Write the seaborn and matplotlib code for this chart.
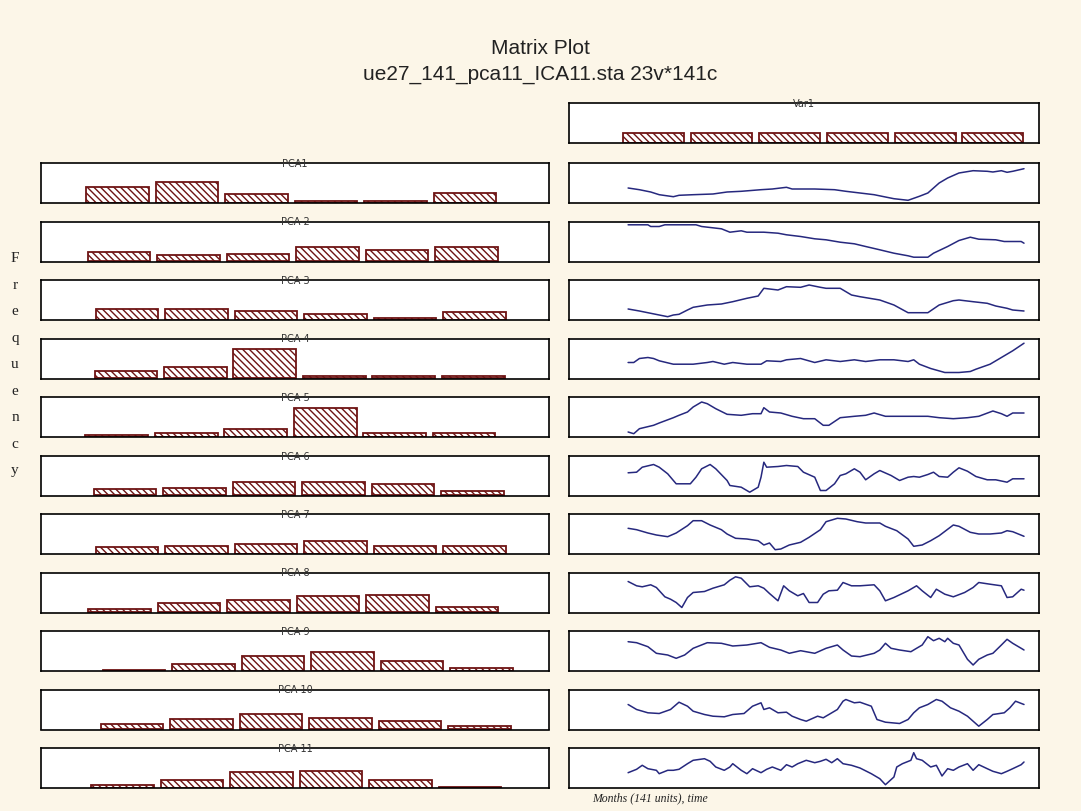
import numpy as np
import pandas as pd
import matplotlib
matplotlib.use("Agg")
import matplotlib.pyplot as plt
import seaborn as sns

# ---------------- text ----------------
title = "Matrix Plot"
subtitle = "ue27_141_pca11_ICA11.sta 23v*141c"
ylabel = "Frequency"
xlabel = "Months (141 units), time"
var_name = "Var1"
pca_names = ["PCA1", "PCA 2", "PCA 3", "PCA 4", "PCA 5", "PCA 6",
             "PCA 7", "PCA 8", "PCA 9", "PCA 10", "PCA 11"]

# ---------------- histogram data (frequencies, 6 bins) ----------------
var1_counts = [24, 23, 24, 23, 23, 24]
var1_bin_start = 0.75

pca1_counts = [38, 50, 22, 5, 5, 24]
pca2_counts = [22, 14, 17, 34, 26, 34]
pca3_counts = [26, 26, 22, 14, 5, 19]
pca4_counts = [17, 26, 70, 5, 5, 5]
pca5_counts = [5, 10, 19, 70, 10, 10]
pca6_counts = [14, 17, 31, 31, 26, 10]
pca7_counts = [17, 19, 24, 31, 19, 19]
pca8_counts = [7, 22, 29, 38, 41, 12]
pca9_counts = [2, 17, 36, 46, 24, 7]
pca10_counts = [12, 24, 36, 26, 19, 7]
pca11_counts = [7, 19, 38, 41, 19, 2]
pca_bin_start = [0.60, 0.62, 0.74, 0.72, 0.59, 0.71, 0.74, 0.63, 0.84, 0.81, 0.67]

# ---------------- time series (month, score) ----------------
pca1_months = [1, 5, 9, 12, 17, 19, 24, 31, 36, 41, 48, 52, 57, 59, 67, 74, 78, 83, 88, 92,
               95, 100, 104, 107, 109, 111, 114, 118, 123, 128, 130, 133, 135, 137, 141]
pca1_values = [1.50, 1.33, 1.10, 0.83, 0.63, 0.77, 0.83, 0.90, 1.10, 1.17, 1.33, 1.40, 1.57, 1.40,
               1.40, 1.33, 1.17, 1.00, 0.83, 0.60, 0.43, 0.27, 0.67, 1.00, 1.50, 2.00, 2.50, 3.00,
               3.23, 3.17, 3.10, 3.23, 3.07, 3.17, 3.43]

pca2_months = [1, 8, 9, 12, 14, 16, 25, 27, 34, 37, 41, 43, 49, 54, 57, 62, 67, 71, 76, 81,
               85, 90, 95, 100, 102, 107, 109, 114, 118, 122, 125, 131, 134, 140, 141]
pca2_values = [3.67, 3.67, 3.50, 3.50, 3.67, 3.67, 3.67, 3.50, 3.27, 2.93, 3.07, 2.93, 2.93, 2.83,
               2.67, 2.50, 2.27, 2.17, 1.93, 1.77, 1.50, 1.17, 0.83, 0.57, 0.43, 0.43, 0.83, 1.50,
               2.10, 2.43, 2.23, 2.17, 2.00, 2.00, 1.83]

pca3_months = [1, 5, 9, 12, 15, 17, 19, 22, 24, 29, 34, 38, 43, 47, 49, 54, 57, 62, 65, 69,
               71, 76, 80, 83, 90, 95, 100, 107, 111, 116, 118, 123, 128, 131, 135, 137, 141]
pca3_values = [1.10, 0.90, 0.67, 0.50, 0.33, 0.50, 0.57, 1.00, 1.27, 1.50, 1.60, 1.83, 2.17, 2.40,
               3.17, 3.00, 3.33, 3.27, 3.50, 3.27, 3.17, 3.17, 2.50, 2.33, 2.00, 1.50, 0.73, 0.73,
               1.50, 1.93, 2.00, 1.83, 1.67, 1.40, 1.17, 1.00, 0.90]

pca4_months = [1, 3, 5, 8, 10, 12, 17, 24, 29, 31, 35, 38, 43, 48, 50, 55, 57, 62, 67, 71,
               76, 81, 85, 90, 95, 100, 102, 104, 108, 113, 118, 122, 124, 129, 133, 137, 141]
pca4_values = [1.60, 1.60, 2.00, 2.10, 2.00, 1.77, 1.43, 1.43, 1.60, 1.70, 1.43, 1.60, 1.43, 1.43,
               1.77, 1.70, 1.87, 2.00, 1.60, 1.87, 1.70, 1.87, 1.70, 1.87, 1.87, 1.70, 1.87, 1.43,
               1.00, 0.60, 0.60, 0.70, 0.93, 1.43, 2.10, 2.77, 3.53]

pca5_months = [1, 3, 5, 10, 12, 17, 19, 22, 24, 27, 29, 32, 36, 41, 45, 48, 49, 51, 55, 59,
               63, 67, 70, 72, 76, 81, 85, 88, 92, 100, 107, 111, 116, 121, 125, 130, 133, 135, 137, 141]
pca5_values = [0.50, 0.33, 0.83, 1.17, 1.40, 1.93, 2.17, 2.50, 3.00, 3.50, 3.33, 2.83, 2.27, 2.17,
               2.33, 2.33, 2.93, 2.50, 2.40, 2.07, 1.83, 1.83, 1.17, 1.17, 1.93, 2.07, 2.17, 2.40,
               2.07, 2.07, 2.07, 1.93, 1.83, 1.93, 2.07, 2.60, 2.33, 2.07, 2.40, 2.40]

pca6_months = [1, 4, 6, 10, 12, 15, 18, 23, 25, 27, 30, 32, 36, 37, 41, 44, 47, 48, 49, 50,
               54, 57, 61, 63, 67, 69, 71, 74, 76, 78, 81, 83, 85, 88, 90, 94, 97, 100, 102, 104,
               107, 109, 111, 114, 116, 118, 121, 124, 128, 131, 135, 137, 141]
pca6_values = [2.27, 2.33, 2.83, 3.10, 2.83, 2.17, 1.17, 1.17, 1.83, 2.67, 3.10, 2.67, 1.50, 1.00,
               0.83, 0.33, 0.83, 1.83, 3.33, 2.83, 2.90, 3.00, 2.90, 2.33, 1.83, 0.50, 0.50, 1.17,
               2.00, 2.17, 2.67, 2.33, 1.57, 2.17, 2.50, 2.00, 1.50, 1.83, 1.90, 1.83, 2.10, 2.33,
               1.90, 1.83, 2.33, 2.77, 2.43, 1.90, 1.57, 1.57, 1.33, 1.67, 1.67]

pca7_months = [1, 4, 8, 11, 15, 18, 22, 24, 27, 30, 34, 36, 39, 43, 47, 49, 51, 53, 55, 58,
               62, 65, 69, 71, 75, 78, 82, 85, 90, 92, 96, 100, 102, 105, 108, 111, 116, 118, 122, 125,
               129, 133, 135, 137, 141]
pca7_values = [2.57, 2.43, 2.10, 1.90, 1.73, 2.10, 2.83, 3.33, 3.33, 2.90, 2.43, 2.00, 1.57, 1.50,
               1.33, 0.90, 1.10, 0.43, 0.50, 0.90, 1.17, 1.67, 2.43, 3.23, 3.57, 3.50, 3.23, 3.10,
               3.10, 2.77, 2.33, 1.50, 0.77, 0.90, 1.33, 1.83, 2.90, 2.77, 2.17, 2.00, 2.00, 2.10,
               2.33, 2.23, 1.77]

pca8_months = [1, 4, 6, 9, 11, 14, 16, 18, 20, 22, 24, 28, 31, 35, 37, 39, 41, 44, 47, 49,
               51, 54, 56, 58, 61, 63, 65, 68, 70, 72, 75, 77, 80, 83, 88, 90, 92, 95, 100, 103,
               105, 108, 110, 113, 116, 120, 123, 125, 129, 133, 135, 137, 140, 141]
pca8_values = [3.10, 2.67, 2.57, 2.77, 2.50, 1.57, 1.33, 1.00, 0.50, 1.50, 2.00, 2.10, 2.43, 2.77,
               3.23, 3.57, 3.43, 2.57, 2.67, 2.43, 1.90, 1.17, 2.67, 2.17, 1.67, 1.90, 1.00, 1.00,
               1.83, 2.17, 2.23, 3.00, 2.67, 2.67, 2.77, 2.17, 1.17, 1.50, 2.17, 2.67, 2.17, 1.50,
               2.33, 1.83, 1.57, 2.00, 2.50, 3.00, 2.83, 2.67, 1.50, 1.57, 2.33, 2.23]

pca9_months = [1, 4, 8, 11, 15, 18, 21, 24, 29, 34, 38, 43, 48, 51, 55, 58, 62, 67, 71, 75,
               77, 80, 83, 88, 90, 92, 94, 97, 101, 103, 105, 107, 109, 111, 113, 114, 116, 118, 121, 123,
               125, 128, 130, 133, 135, 137, 140, 141]
pca9_values = [2.93, 2.83, 2.43, 1.77, 1.60, 1.27, 1.60, 2.27, 2.83, 2.77, 2.50, 2.60, 2.83, 2.37,
               2.10, 1.77, 2.03, 1.77, 2.27, 2.60, 2.10, 1.50, 1.43, 1.77, 2.10, 2.77, 2.27, 2.10,
               1.93, 2.27, 2.60, 3.43, 3.03, 3.27, 2.93, 3.27, 2.77, 2.60, 1.17, 0.60, 1.17, 1.60,
               1.77, 2.60, 3.17, 2.77, 2.27, 2.10]

pca10_months = [1, 4, 8, 12, 16, 19, 22, 24, 28, 31, 35, 38, 42, 45, 48, 49, 51, 54, 57, 59,
                62, 64, 68, 70, 72, 75, 77, 78, 81, 83, 87, 89, 92, 97, 100, 102, 104, 107, 110, 112,
                115, 118, 121, 125, 128, 130, 134, 136, 138, 141]
pca10_values = [2.50, 2.00, 1.67, 1.60, 2.00, 2.73, 2.33, 1.83, 1.50, 1.33, 1.27, 1.50, 1.60, 2.33,
                2.67, 2.00, 2.17, 1.67, 1.73, 1.33, 1.00, 0.83, 1.33, 1.17, 1.50, 2.00, 2.83, 3.00,
                2.67, 2.73, 2.33, 1.00, 0.73, 0.60, 1.00, 1.67, 2.17, 2.50, 3.00, 2.83, 2.17, 1.83,
                1.33, 0.33, 1.00, 1.50, 1.67, 2.17, 2.83, 2.50]

pca11_months = [1, 4, 6, 8, 11, 12, 15, 17, 19, 22, 24, 28, 30, 32, 35, 37, 38, 41, 43, 45,
                48, 50, 52, 55, 57, 59, 61, 64, 67, 69, 71, 73, 75, 77, 80, 83, 87, 90, 92, 95,
                96, 98, 101, 102, 103, 105, 108, 110, 112, 114, 116, 118, 121, 123, 125, 128, 130, 133, 135, 137,
                140, 141]
pca11_values = [1.53, 1.87, 2.27, 1.93, 1.77, 1.43, 1.77, 1.77, 1.87, 2.43, 2.77, 2.93, 2.67, 2.10,
                1.77, 2.10, 2.43, 1.77, 1.43, 1.93, 1.53, 1.87, 2.10, 1.77, 2.33, 2.10, 2.43, 2.77,
                2.53, 2.67, 2.87, 2.53, 2.93, 2.43, 2.27, 2.00, 1.43, 0.93, 0.33, 1.10, 2.10, 2.43,
                2.77, 3.53, 2.93, 2.77, 2.10, 2.27, 1.20, 1.93, 1.77, 2.10, 2.43, 1.77, 2.33, 1.93,
                1.67, 1.43, 1.67, 1.93, 2.33, 2.60]

pca_counts = [pca1_counts, pca2_counts, pca3_counts, pca4_counts, pca5_counts, pca6_counts,
              pca7_counts, pca8_counts, pca9_counts, pca10_counts, pca11_counts]
pca_months = [pca1_months, pca2_months, pca3_months, pca4_months, pca5_months, pca6_months,
              pca7_months, pca8_months, pca9_months, pca10_months, pca11_months]
pca_values = [pca1_values, pca2_values, pca3_values, pca4_values, pca5_values, pca6_values,
              pca7_values, pca8_values, pca9_values, pca10_values, pca11_values]

# ---------------- style ----------------
BG = "#fcf6e8"
MAROON = "#6e1414"
NAVY = "#26287e"
W, H = 1081, 812

sns.set_style("white")
plt.rcParams["font.family"] = ["Liberation Sans", "DejaVu Sans"]
plt.rcParams["hatch.linewidth"] = 1.0
plt.rcParams["hatch.color"] = MAROON

fig = plt.figure(figsize=(W / 100, H / 100), dpi=100, facecolor=BG)


def add_px_axes(x0, y_top, w, h):
    return fig.add_axes([x0 / W, 1 - (y_top + h) / H, w / W, h / H])


def style_panel(ax):
    ax.set_facecolor("white")
    ax.set_xticks([])
    ax.set_yticks([])
    ax.set_xlabel("")
    ax.set_ylabel("")
    for sp in ax.spines.values():
        sp.set_visible(True)
        sp.set_color("black")
        sp.set_linewidth(1.2)


def draw_hist(ax, counts, start, xmax, label):
    centers = start + np.arange(len(counts)) + 0.5
    df = pd.DataFrame({"bin": centers, "count": counts})
    sns.barplot(data=df, x="bin", y="count", native_scale=True, width=0.9,
                color="white", saturation=1, edgecolor=MAROON, linewidth=1.3,
                hatch="\\\\\\\\\\", errorbar=None, ax=ax)
    ax.set_xlim(0, xmax)
    ax.set_ylim(-0.8, 96)
    style_panel(ax)
    ax.text(0.5, 1.0, label, transform=ax.transAxes, ha="center", va="center",
            fontsize=7, color="#333333", family="DejaVu Sans")


LEFT_X, LEFT_W = 41, 508
RIGHT_X, RIGHT_W = 569, 470
PANEL_H = 40
tops = [164 + i * 58.5 for i in range(11)]

# Var1 histogram (top right)
ax_v = add_px_axes(RIGHT_X, 104, RIGHT_W, PANEL_H)
draw_hist(ax_v, var1_counts, var1_bin_start, 6.93, var_name)

for i in range(11):
    axh = add_px_axes(LEFT_X, tops[i], LEFT_W, PANEL_H)
    draw_hist(axh, pca_counts[i], pca_bin_start[i], 7.31, pca_names[i])

    axl = add_px_axes(RIGHT_X, tops[i], RIGHT_W, PANEL_H)
    sns.lineplot(x=pca_months[i], y=pca_values[i], ax=axl, color=NAVY,
                 linewidth=1.1, estimator=None)
    axl.set_xlim(-19.9, 146.3)
    axl.set_ylim(0, 4.0)
    style_panel(axl)

# titles
fig.text(0.5, 1 - 48 / H, title, ha="center", va="center", fontsize=15, color="#222222")
fig.text(0.5, 1 - 75 / H, subtitle, ha="center", va="center", fontsize=15, color="#222222")

# vertical stacked "Frequency"
for k, ch in enumerate(ylabel):
    fig.text(15 / W, 1 - (259 + k * 26.5) / H, ch, ha="center", va="center",
             fontsize=11, family="Liberation Serif", color="#222222")

fig.text(592 / W, 1 - 798 / H, xlabel, ha="left", va="center", fontsize=8.5,
         family="Liberation Serif", style="italic", color="#222222")

fig.savefig("out.png", dpi=100, facecolor=BG)
